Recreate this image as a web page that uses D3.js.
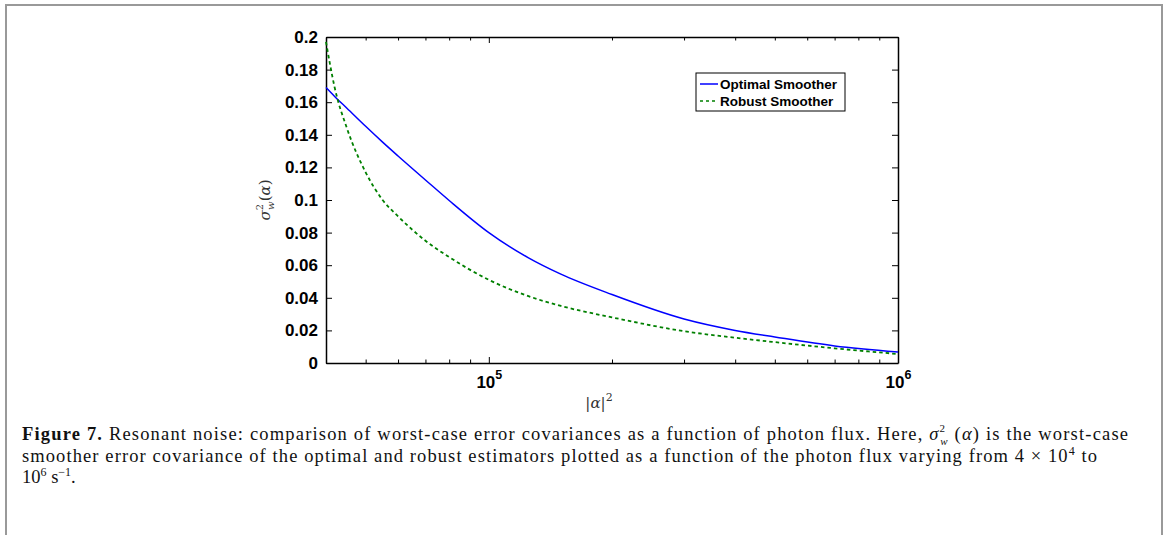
<!doctype html>
<html lang="en">
<head>
<meta charset="utf-8">
<title>Figure 7</title>
<script src="https://cdn.jsdelivr.net/npm/d3@7"></script>
<style>
  body { margin: 0; background: #fff; }
  .axis path.domain { stroke: #000; stroke-width: 1.5; }
  .axis line { stroke: #000; stroke-width: 1; }
  .axis text { font: bold 17px "Liberation Sans", Arial, sans-serif; fill: #000; }
</style>
</head>
<body>
<div id="viz"></div>
<script>
// photon flux |alpha|^2 (x) and worst-case error covariance for each smoother
var flux    = [4e4, 4.2e4, 4.5e4, 5e4, 5.5e4, 6e4, 7e4, 8e4, 1e5, 1.25e5, 1.5e5, 2e5, 3e5, 4e5, 5e5, 7e5, 1e6];
var optimal = [0.169, 0.1635, 0.1563, 0.1452, 0.1355, 0.127, 0.1123, 0.0997, 0.080, 0.0645, 0.0545, 0.042, 0.027, 0.020, 0.016, 0.0105, 0.0068];
var robust  = [0.197, 0.169, 0.144, 0.117, 0.100, 0.090, 0.075, 0.065, 0.051, 0.041, 0.035, 0.028, 0.0195, 0.0155, 0.0128, 0.009, 0.0055];

var seriesNames = ["Optimal Smoother", "Robust Smoother"];
var yTicks = [0, 0.02, 0.04, 0.06, 0.08, 0.1, 0.12, 0.14, 0.16, 0.18, 0.2];
var xMajor = [1e5, 1e6];
var xMinor = [5e4, 6e4, 7e4, 8e4, 9e4, 2e5, 3e5, 4e5, 5e5, 6e5, 7e5, 8e5, 9e5];

var w = 1166, h = 535;
var margin = {top: 37, right: 268, bottom: 172, left: 326};
var width = w - margin.left - margin.right,
    height = h - margin.top - margin.bottom;

var svg = d3.select("#viz").append("svg")
    .attr("width", w)
    .attr("height", h);

// page frame
svg.append("path")
    .attr("d", "M6,540V5H1162V540")
    .attr("fill", "none")
    .attr("stroke", "#999")
    .attr("stroke-width", 2);

var g = svg.append("g")
    .attr("transform", "translate(" + margin.left + "," + margin.top + ")");

var x = d3.scaleLog().domain([4e4, 1e6]).range([0, width]);
var y = d3.scaleLinear().domain([0, 0.2]).range([height, 0]);

// inward ticks on all four sides (matlab box)
g.append("g").attr("class", "axis")
    .call(d3.axisLeft(y).tickValues(yTicks).tickSizeInner(-6).tickSizeOuter(0).tickPadding(8)
        .tickFormat(d => d3.format("")(+d.toFixed(2))));
g.append("g").attr("class", "axis")
    .attr("transform", "translate(" + width + ",0)")
    .call(d3.axisRight(y).tickValues(yTicks).tickSizeInner(-6).tickSizeOuter(0).tickFormat(""));

var xAxis = g.append("g").attr("class", "axis")
    .attr("transform", "translate(0," + height + ")")
    .call(d3.axisBottom(x).tickValues(xMajor).tickSizeInner(-6).tickSizeOuter(0).tickFormat(""));
g.append("g").attr("class", "axis")
    .attr("transform", "translate(0," + height + ")")
    .call(d3.axisBottom(x).tickValues(xMinor).tickSizeInner(-3.5).tickSizeOuter(0).tickFormat(""))
    .select(".domain").remove();
g.append("g").attr("class", "axis")
    .call(d3.axisTop(x).tickValues(xMajor).tickSizeInner(-6).tickSizeOuter(0).tickFormat(""));
g.append("g").attr("class", "axis")
    .call(d3.axisTop(x).tickValues(xMinor).tickSizeInner(-3.5).tickSizeOuter(0).tickFormat(""))
    .select(".domain").remove();

// 10^n labels
xAxis.selectAll(".tick").each(function(d) {
    var t = d3.select(this).append("text")
        .attr("y", 25)
        .attr("text-anchor", "middle");
    t.append("tspan").text("10");
    t.append("tspan").attr("dy", -9).style("font-size", "12.5px").text(Math.round(Math.log10(d)));
});

// curves
var line = d3.line()
    .x(d => x(d[0]))
    .y(d => y(d[1]))
    .curve(d3.curveMonotoneX);

g.append("path")
    .datum(flux.map((f, i) => [f, optimal[i]]))
    .attr("fill", "none")
    .attr("stroke", "#0000ff")
    .attr("stroke-width", 1.5)
    .attr("d", line);

g.append("path")
    .datum(flux.map((f, i) => [f, robust[i]]))
    .attr("fill", "none")
    .attr("stroke", "#008000")
    .attr("stroke-width", 1.8)
    .attr("stroke-dasharray", "3.5,3")
    .attr("d", line);

// legend
var leg = g.append("g").attr("transform", "translate(" + (696 - margin.left) + "," + (73 - margin.top) + ")");
leg.append("rect")
    .attr("width", 149).attr("height", 38)
    .attr("fill", "#fff").attr("stroke", "#000").attr("stroke-width", 1);
seriesNames.forEach(function(name, i) {
    leg.append("line")
        .attr("x1", 4).attr("x2", 22)
        .attr("y1", 11 + i * 17).attr("y2", 11 + i * 17)
        .attr("stroke", i ? "#008000" : "#0000ff")
        .attr("stroke-width", 1.5)
        .attr("stroke-dasharray", i ? "3,3" : null);
    leg.append("text")
        .attr("x", 24).attr("y", 16 + i * 17)
        .style("font", "bold 13.5px 'Liberation Sans', Arial, sans-serif")
        .text(name);
});

// axis labels
var xl = svg.append("text")
    .attr("x", 599).attr("y", 408)
    .attr("text-anchor", "middle")
    .style("font", "15px 'DejaVu Serif', serif").style("fill", "#333");
xl.append("tspan").text("|");
xl.append("tspan").style("font-style", "italic").text("α");
xl.append("tspan").text("|");
xl.append("tspan").attr("dy", -7).style("font-size", "11px").text("2");

var yl = svg.append("text")
    .attr("transform", "translate(270,200) rotate(-90)")
    .attr("text-anchor", "middle")
    .style("font", "15px 'DejaVu Serif', serif").style("fill", "#333");
yl.append("tspan").style("font-style", "italic").text("σ");
yl.append("tspan").attr("dy", -7).style("font-size", "10px").text("2");
yl.append("tspan").attr("dx", -6).attr("dy", 11).style("font-size", "10px").style("font-style", "italic").text("w");
yl.append("tspan").attr("dy", -4).text("(");
yl.append("tspan").style("font-style", "italic").text("α");
yl.append("tspan").text(")");

// caption
var cap = svg.append("g").style("font", "18.5px 'Liberation Serif', 'Times New Roman', serif").style("fill", "#111");
var c1 = cap.append("text").attr("x", 22).attr("y", 440)
    .attr("textLength", 1106).attr("lengthAdjust", "spacing");
c1.append("tspan").style("font-weight", "bold").text("Figure 7.");
c1.append("tspan").text(" Resonant noise: comparison of worst-case error covariances as a function of photon flux. Here, ");
c1.append("tspan").style("font-style", "italic").text("σ");
c1.append("tspan").attr("dy", -8).style("font-size", "11px").text("2");
c1.append("tspan").attr("dx", -6).attr("dy", 13).style("font-size", "11px").style("font-style", "italic").text("w");
c1.append("tspan").attr("dy", -5).text(" (");
c1.append("tspan").style("font-style", "italic").text("α");
c1.append("tspan").text(") is the worst-case");

var c2 = cap.append("text").attr("x", 22).attr("y", 462)
    .attr("textLength", 1075).attr("lengthAdjust", "spacing");
c2.append("tspan").text("smoother error covariance of the optimal and robust estimators plotted as a function of the photon flux varying from 4 × 10");
c2.append("tspan").attr("dy", -7).style("font-size", "12px").text("4");
c2.append("tspan").attr("dy", 7).text(" to");

var c3 = cap.append("text").attr("x", 22).attr("y", 483);
c3.append("tspan").text("10");
c3.append("tspan").attr("dy", -7).style("font-size", "12px").text("6");
c3.append("tspan").attr("dy", 7).text(" s");
c3.append("tspan").attr("dy", -7).style("font-size", "12px").text("−1");
c3.append("tspan").attr("dy", 7).text(".");
</script>
</body>
</html>
